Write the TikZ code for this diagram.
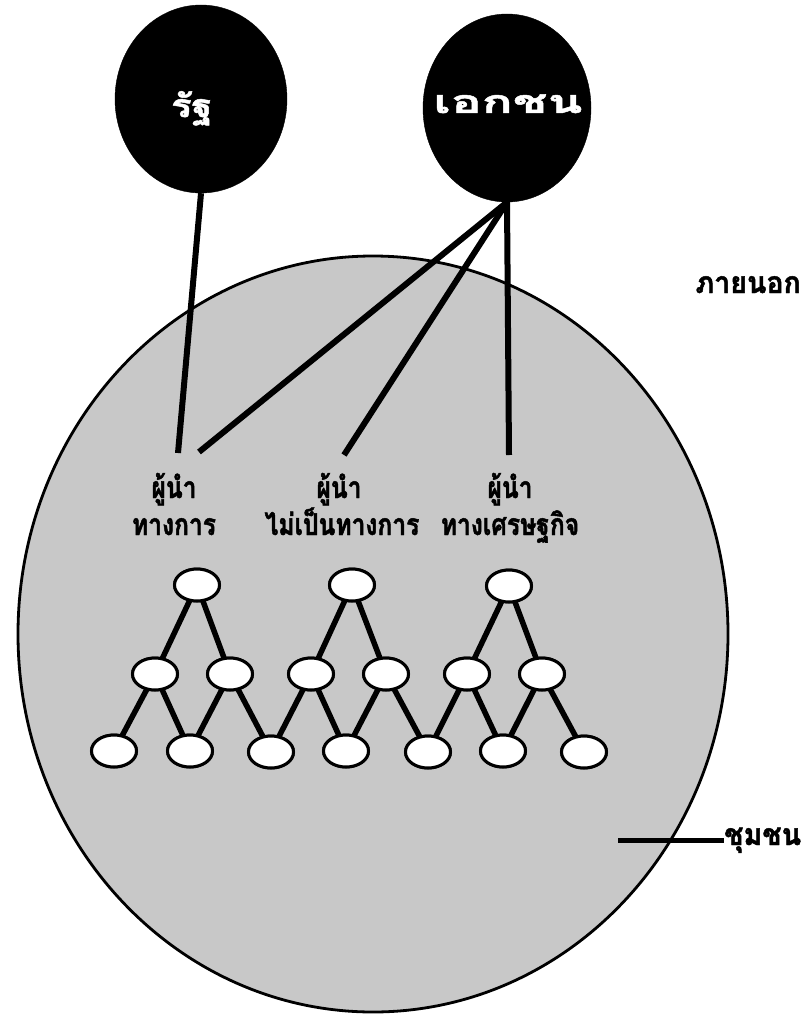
\documentclass[tikz,border=0pt]{standalone}
\usepackage{fontspec}
\usetikzlibrary{shapes.geometric}
\newfontfamily\thaiRat[Script=Thai,FakeStretch=1.2,FakeBold=1.5]{Loma}
\newfontfamily\thaiEk[Script=Thai,FakeStretch=1.6,FakeBold=1.5]{Loma}
\newfontfamily\thaiLbl[Script=Thai,FakeStretch=0.82,FakeBold=1.5]{Loma}
\newfontfamily\thaiSide[Script=Thai,FakeStretch=0.95,FakeBold=1.5]{Loma}
\definecolor{commgray}{RGB}{200,200,200}
\begin{document}
\begin{tikzpicture}[x=1pt,y=-1pt,
  actor/.style={ellipse,fill=black,draw=black,minimum width=172pt,minimum height=188pt,inner sep=0pt},
  actortext/.style={text=white,inner sep=0pt,anchor=base},
  leaderlbl/.style={anchor=base,font=\thaiLbl\bfseries\fontsize{30}{30}\selectfont,inner sep=0pt},
  tnode/.style={ellipse,draw=black,fill=white,line width=3pt,minimum width=45pt,minimum height=32pt,inner sep=0pt},
  tedge/.style={line width=5.5pt},
  link/.style={line width=6pt},
  sidelbl/.style={anchor=base,font=\thaiSide\bfseries\fontsize{30}{30}\selectfont,inner sep=0pt}
]
\useasboundingbox (0,0) rectangle (809,1019);
% community
\node[ellipse,draw=black,line width=2.8pt,fill=commgray,minimum width=710pt,minimum height=756pt,inner sep=0pt] (comm) at (373,634) {};
% actors
\node[actor] (rat) at (201,99) {};
\node[actor,minimum width=168pt] (ekachon) at (507,108) {};
\node[actortext,font=\thaiRat\bfseries\fontsize{32}{32}\selectfont] (rattxt) at (192,117) {รัฐ};
\node[actortext,font=\thaiEk\bfseries\fontsize{32}{32}\selectfont] (ektxt) at (508,113) {เอกชน};
% leader labels
\node[leaderlbl] (l1a) at (174,498) {ผู้นำ};
\node[leaderlbl] (l1b) at (174,535) {ทางการ};
\node[leaderlbl] (l2a) at (339,498) {ผู้นำ};
\node[leaderlbl] (l2b) at (342,535) {ไม่เป็นทางการ};
\node[leaderlbl] (l3a) at (510,498) {ผู้นำ};
\node[leaderlbl] (l3b) at (510,535) {ทางเศรษฐกิจ};
\coordinate (c1) at (178,453);
\coordinate (c2) at (199,452);
\coordinate (c3) at (344,455);
\coordinate (c4) at (509,455);
\draw[link] (rat.south) -- (c1);
\draw[link] (ekachon.south) -- (c2);
\draw[link] (ekachon.south) -- (c3);
\draw[link] (ekachon.south) -- (c4);
% tree
\node[tnode] (t1) at (197,585) {};
\node[tnode] (t2) at (352,585) {};
\node[tnode] (t3) at (509,586) {};
\node[tnode] (m1) at (155,674) {};
\node[tnode] (m2) at (230,674) {};
\node[tnode] (m3) at (311,674) {};
\node[tnode] (m4) at (386,674) {};
\node[tnode] (m5) at (467,674) {};
\node[tnode] (m6) at (542,674) {};
\node[tnode] (b1) at (114,751) {};
\node[tnode] (b2) at (190,751) {};
\node[tnode] (b3) at (271,752) {};
\node[tnode] (b4) at (346,751) {};
\node[tnode] (b5) at (428,752) {};
\node[tnode] (b6) at (503,751) {};
\node[tnode] (b7) at (584,752) {};
\foreach \a/\b in {t1/m1,t1/m2,t2/m3,t2/m4,t3/m5,t3/m6,m1/b1,m1/b2,m2/b2,m2/b3,m3/b3,m3/b4,m4/b4,m4/b5,m5/b5,m5/b6,m6/b6,m6/b7}
  \draw[tedge,shorten <=-1pt,shorten >=-1pt] (\a) -- (\b);
\foreach \n in {t1,t2,t3,m1,m2,m3,m4,m5,m6,b1,b2,b3,b4,b5,b6,b7}
  \node[tnode] at (\n) {};
% side labels
\node[sidelbl,anchor=base east] (outside) at (801,293) {ภายนอก};
\node[sidelbl,anchor=base west] (chumchon) at (724,845) {ชุมชน};
\coordinate (lead) at (618,840);
\draw[line width=5pt] (lead) -- (lead -| chumchon.west);
\end{tikzpicture}
\end{document}
